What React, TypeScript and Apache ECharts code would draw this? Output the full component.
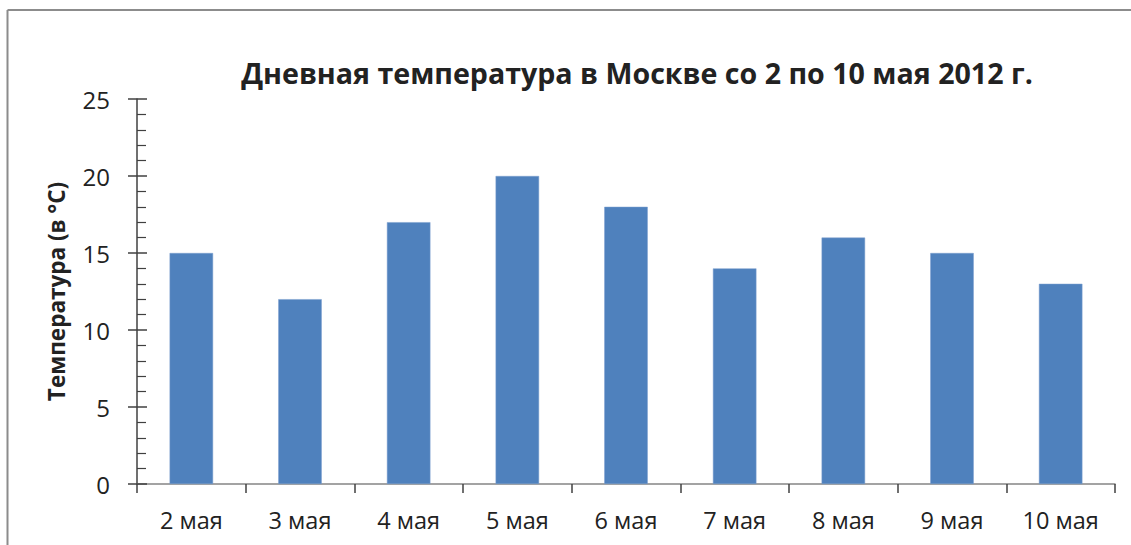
import React, { useEffect, useRef } from "react";
import * as echarts from "echarts";

const categories = ["2 мая", "3 мая", "4 мая", "5 мая", "6 мая", "7 мая", "8 мая", "9 мая", "10 мая"];
const temperatures = [15, 12, 17, 20, 18, 14, 16, 15, 13];
const titleText = "Дневная температура в Москве со 2 по 10 мая 2012 г.";
const yAxisName = "Температура (в °С)";

const FONT = "'Open Sans', 'Noto Sans', sans-serif";

export default function App() {
  const ref = useRef<HTMLDivElement>(null);
  useEffect(() => {
    if (!ref.current) return;
    const chart = echarts.init(ref.current, undefined, { renderer: "svg" });
    chart.setOption({
      animation: false,
      backgroundColor: "#ffffff",
      title: {
        text: titleText,
        left: 632,
        top: 53,
        textAlign: "center",
        textStyle: { fontFamily: FONT, fontWeight: "bold", fontSize: 28.6, color: "#222222" },
      },
      graphic: [
        { type: "line", shape: { x1: 7.5, y1: 10, x2: 1131, y2: 10 }, style: { stroke: "#8c8c8c", lineWidth: 2 } },
        { type: "line", shape: { x1: 7.5, y1: 10, x2: 7.5, y2: 545 }, style: { stroke: "#8c8c8c", lineWidth: 2 } },
      ],
      grid: { left: 137, right: 16, top: 99, bottom: 61, containLabel: false },
      xAxis: {
        type: "category",
        data: categories,
        boundaryGap: true,
        axisLine: { lineStyle: { color: "#858585", width: 1.5 } },
        axisTick: { show: true, length: 9, lineStyle: { color: "#404040", width: 1.5 } },
        axisLabel: { fontFamily: FONT, fontSize: 23.5, color: "#222222", margin: 24 },
      },
      yAxis: [
        {
          type: "value",
          min: 0,
          max: 25,
          interval: 5,
          name: yAxisName,
          nameLocation: "middle",
          nameGap: 69,
          nameTextStyle: { fontFamily: FONT, fontWeight: "bold", fontSize: 22.5, color: "#222222" },
          axisLine: { show: true, lineStyle: { color: "#404040", width: 1.5 } },
          axisTick: { show: true, inside: false, length: 9, lineStyle: { color: "#404040", width: 1.5 } },
          minorTick: { show: false },
          splitLine: { show: false },
          axisLabel: { fontFamily: FONT, fontSize: 24, color: "#222222", margin: 27 },
        },
        {
          type: "value",
          min: 0,
          max: 25,
          interval: 5,
          position: "left",
          axisLine: { show: false },
          axisTick: { show: true, inside: true, length: 10, lineStyle: { color: "#404040", width: 1.5 } },
          minorTick: { show: true, splitNumber: 5, length: 9, lineStyle: { color: "#404040", width: 1.2 } },
          splitLine: { show: false },
          axisLabel: { show: false },
        },
      ],
      series: [
        {
          type: "bar",
          data: temperatures,
          barWidth: "40%",
          yAxisIndex: 0,
          itemStyle: { color: "#4F81BD", borderColor: "#7a9fcf", borderWidth: 0.5 },
        },
      ],
    });
    return () => chart.dispose();
  }, []);
  return (
    <div
      ref={ref}
      style={{ position: "absolute", left: 0, top: 0, width: 1131, height: 545 }}
    />
  );
}
